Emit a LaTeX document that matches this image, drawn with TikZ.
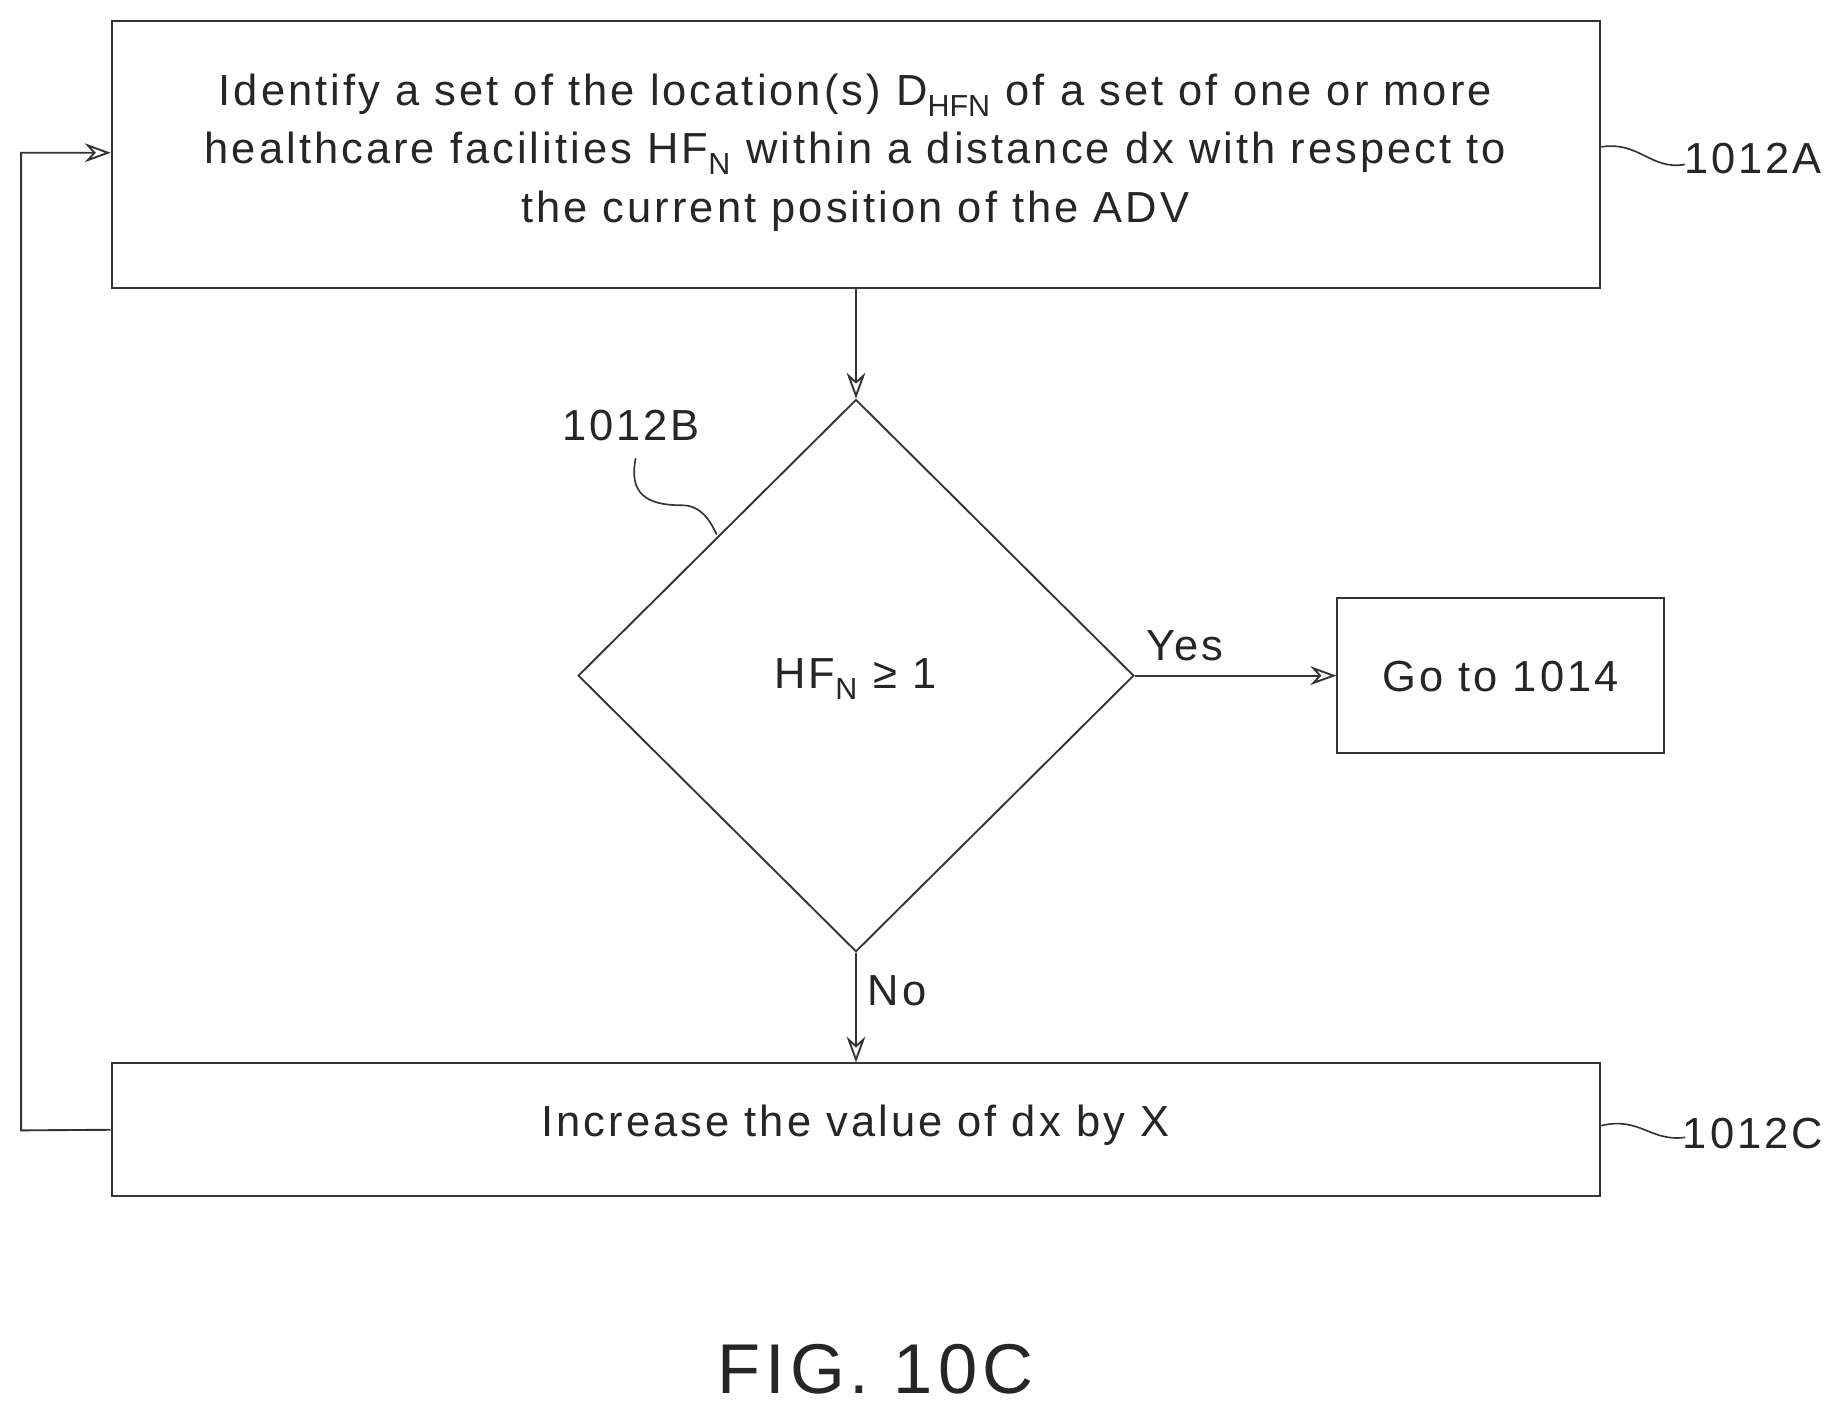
\documentclass[tikz,border=0pt]{standalone}
\usepackage{fontspec}
\setmainfont{Liberation Sans}[LetterSpace=7]
\usetikzlibrary{arrows.meta,shapes.geometric}
\begin{document}
\begin{tikzpicture}[x=1pt,y=-1pt,
  box/.style={draw=black!80,line width=1.6pt,inner sep=0pt},
  txt/.style={font=\fontsize{37}{50}\selectfont,text=black!85,align=center},
  arr/.style={draw=black!80,line width=1.6pt,-{Stealth[length=22pt,width=16pt,open]}},
  lnk/.style={draw=black!80,line width=1.4pt}]
\useasboundingbox[fill=white] (0,0) rectangle (1560,1200);
\node[box,minimum width=1267pt,minimum height=227pt] (A) at (728.5,131.5) {};
\node[txt] at (728,130) {Identify a set of the location(s) D$_{\mathrm{HFN}}$ of a set of one or more\\healthcare facilities HF$_{\mathrm{N}}$ within a distance dx with respect to\\the current position of the ADV};
\node[box,diamond,minimum width=473pt,minimum height=470pt,aspect=1] (B) at (728.5,575) {};
\node[txt] at (728,578) {HF$_{\mathrm{N}}$ ≥ 1};
\node[box,minimum width=278pt,minimum height=132pt] (G) at (1277,575) {};
\node[txt] at (1277,576) {Go to 1014};
\node[box,minimum width=1267pt,minimum height=113pt] (C) at (728.5,961.5) {};
\node[txt] at (728,958) {Increase the value of dx by X};
\draw[arr] (A.south) -- (B.north);
\draw[arr] (B.east) -- (G.west) node[txt,pos=0.25,above=8pt] {Yes};
\draw[arr] (B.south) -- (C.north) node[txt,pos=0.35,right=6pt] {No};
\coordinate (L1) at (18,962);
\coordinate (L2) at (18,130);
\draw[arr] (C.west) -- (L1) -- (L2) -- (A.west |- L2);
\node[txt] (la) at (1492,135) {1012A};
\node[txt] (lc) at (1492,965) {1012C};
\node[txt] (lb) at (537,362) {1012B};
\coordinate (sa) at (1434,140);
\coordinate (sc) at (1434,968);
\coordinate (sb0) at (541,390);
\coordinate (sb1) at (610,455);
\draw[lnk] (A.east |- 0,125) .. controls (1395,120) and (1405,145) .. (sa);
\draw[lnk] (C.east |- 0,958) .. controls (1395,950) and (1405,972) .. (sc);
\draw[lnk] (sb0) .. controls (535,420) and (550,430) .. (580,430) .. controls (595,430) and (603,440) .. (sb1);
\node[font=\fontsize{60}{70}\selectfont,text=black!85] (fig) at (745,1165) {FIG. 10C};
\end{tikzpicture}
\end{document}
